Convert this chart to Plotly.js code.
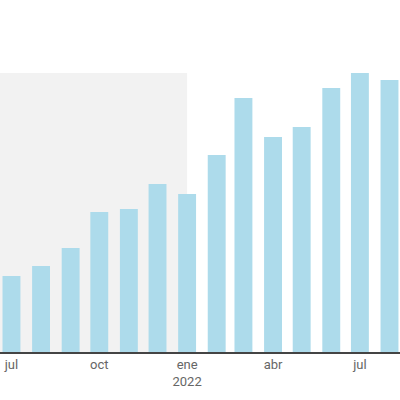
<!DOCTYPE html>
<html>
<head>
<meta charset="utf-8">
<script src="https://cdn.plot.ly/plotly-3.0.1.min.js"></script>
<style>html,body{margin:0;padding:0;background:#fff;}#chart{width:400px;height:400px;}</style>
</head>
<body>
<div id="chart"></div>
<script>
var months = ["2021-07-01","2021-08-01","2021-09-01","2021-10-01","2021-11-01","2021-12-01",
              "2022-01-01","2022-02-01","2022-03-01","2022-04-01","2022-05-01","2022-06-01",
              "2022-07-01","2022-08-01"];
var values = [76, 86, 104, 140, 143, 168, 158, 197, 254, 215, 225, 264, 279, 272];
var shadeStart = "2021-05-01";
var shadeEnd = "2022-01-01";
var tickValues = ["2021-07-01","2021-10-01","2022-01-01","2022-04-01","2022-07-01"];
var tickLabels = ["jul","oct","ene<br>2022","abr","jul"];

var trace = {
  type: "bar",
  x: months,
  y: values,
  marker: {color: "#ADDBEB"},
  hoverinfo: "none"
};

var layout = {
  width: 400,
  height: 400,
  margin: {l: 0, r: 0, t: 73, b: 48, pad: 0},
  paper_bgcolor: "#ffffff",
  plot_bgcolor: "rgba(0,0,0,0)",
  showlegend: false,
  bargap: 0.33,
  font: {family: "Roboto, sans-serif", size: 13, color: "#666666"},
  xaxis: {
    type: "date",
    range: ["2021-06-19", "2022-08-12"],
    tickmode: "array",
    tickvals: tickValues,
    ticktext: tickLabels,
    showgrid: false,
    zeroline: false,
    showline: true,
    linecolor: "#444444",
    linewidth: 1.5,
    ticks: "",
    tickfont: {family: "Roboto, sans-serif", size: 13, color: "#666666"}
  },
  yaxis: {
    range: [0, 279],
    visible: false,
    showgrid: false,
    zeroline: false
  },
  shapes: [{
    type: "rect",
    layer: "below",
    xref: "x",
    yref: "paper",
    x0: shadeStart,
    x1: shadeEnd,
    y0: 0,
    y1: 1,
    fillcolor: "#F2F2F2",
    line: {width: 0}
  }]
};

Plotly.newPlot("chart", [trace], layout, {displayModeBar: false, staticPlot: true});
</script>
</body>
</html>
